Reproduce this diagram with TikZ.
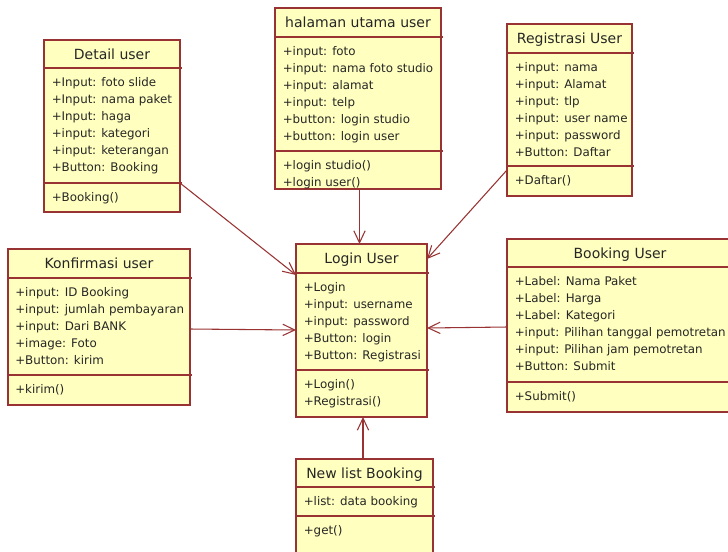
\documentclass[tikz,border=0pt]{standalone}
\usepackage{fontspec}
\setmainfont{DejaVu Sans}
\usetikzlibrary{arrows.meta,calc}
\definecolor{umlline}{HTML}{993333}
\definecolor{umlfill}{HTML}{FFFFC0}
\newcommand\umlfont{\fontsize{8.9pt}{11pt}\selectfont}
\newcommand\umltitlefont{\fontsize{10.5pt}{12pt}\selectfont}
\tikzset{
  cls/.style={draw=umlline, fill=umlfill, line width=0.9pt, anchor=north west, inner sep=0pt, outer sep=0pt},
  sep/.style={draw=umlline, line width=0.9pt},
  ttl/.style={anchor=base, inner sep=0pt, font=\umltitlefont, text=black!85},
  row/.style={anchor=base west, inner sep=0pt, font=\umlfont, text=black!85},
  assoc/.style={draw=umlline, line width=0.8pt, -{Straight Barb[length=9pt,width=8.5pt]}},
}
% class frame: name, x1, y1, x2, y2, header divider, method divider, title
\newcommand\umlbox[8]{%
  \node[cls, minimum width={(#4-#2)*0.75pt}, minimum height={(#5-#3)*0.75pt}] (#1) at (#2,#3) {};
  \draw[sep] (#2,#6) -- (#4+1.5,#6);
  \draw[sep] (#2,#7) -- (#4+1.5,#7);
  \node[ttl] (#1-title) at ({(#2+#4)/2},#3+19) {#8};
}
% compartment rows: prefix, x, first baseline, rows
\newcommand\umlrows[4]{%
  \foreach \r [count=\i] in {#4} \node[row] (#1-\i) at (#2,{#3+17*(\i-1)}) {\r};
}
\begin{document}
\begin{tikzpicture}[x=0.75pt,y=-0.75pt]
\clip (0,0) rectangle (728,551);

\umlbox{detail}{44}{40}{180}{212}{68}{183}{Detail user}
\umlrows{detail-a}{51.5}{86.5}{+Input: foto slide,+Input: nama paket,+Input: haga,+input: kategori,+input: keterangan,+Button: Booking}
\umlrows{detail-m}{51.5}{201.5}{+Booking()}

\umlbox{halaman}{275}{8}{441}{189}{37}{151}{halaman utama user}
\umlrows{halaman-a}{282.5}{55.5}{+input: foto,+input: nama foto studio,+input: alamat,+input: telp,+button: login studio,+button: login user}
\umlrows{halaman-m}{282.5}{169.5}{+login studio(),+login user()}

\umlbox{regis}{507}{24}{632}{196}{53}{166}{Registrasi User}
\umlrows{regis-a}{514.5}{71.5}{+input: nama,+input: Alamat,+input: tlp,+input: user name,+input: password,+Button: Daftar}
\umlrows{regis-m}{514.5}{184.5}{+Daftar()}

\umlbox{konf}{8}{249}{190}{405}{278}{375}{Konfirmasi user}
\umlrows{konf-a}{15}{296.5}{+input: ID Booking,+input: jumlah pembayaran,+input: Dari BANK,+image: Foto,+Button: kirim}
\umlrows{konf-m}{15}{393.5}{+kirim()}

\umlbox{login}{296}{244}{427}{417}{273}{370}{Login User}
\umlrows{login-a}{303.5}{291.5}{+Login,+input: username,+input: password,+Button: login,+Button: Registrasi}
\umlrows{login-m}{303.5}{388.5}{+Login(),+Registrasi()}

\umlbox{booking}{507}{239}{733}{412}{267}{382}{Booking User}
\umlrows{booking-a}{514.5}{285.5}{+Label: Nama Paket,+Label: Harga,+Label: Kategori,+input: Pilihan tanggal pemotretan,+input: Pilihan jam pemotretan,+Button: Submit}
\umlrows{booking-m}{514.5}{400.5}{+Submit()}

\umlbox{newlist}{296}{459}{433}{570}{487}{516}{New list Booking}
\umlrows{newlist-a}{303.5}{505.5}{+list: data booking}
\umlrows{newlist-m}{303.5}{534.5}{+get()}

% associations into the login screen
\draw[assoc] ($(detail.north east)+(0,143)$) -- ($(login.north west)+(0,31)$);
\draw[assoc] ($(halaman.south west)+(84.5,0)$) -- ($(login.north west)+(63.5,0)$);
\draw[assoc] ($(regis.north west)+(0,146)$) -- ($(login.north east)+(0,15)$);
\draw[assoc] ($(konf.north east)+(0,80)$) -- ($(login.north west)+(0,86)$);
\draw[assoc] ($(booking.north west)+(0,88)$) -- ($(login.north east)+(0,84)$);
\draw[assoc] ($(newlist.north west)+(67,0)$) -- ($(login.south west)+(67,0)$);
\end{tikzpicture}
\end{document}
